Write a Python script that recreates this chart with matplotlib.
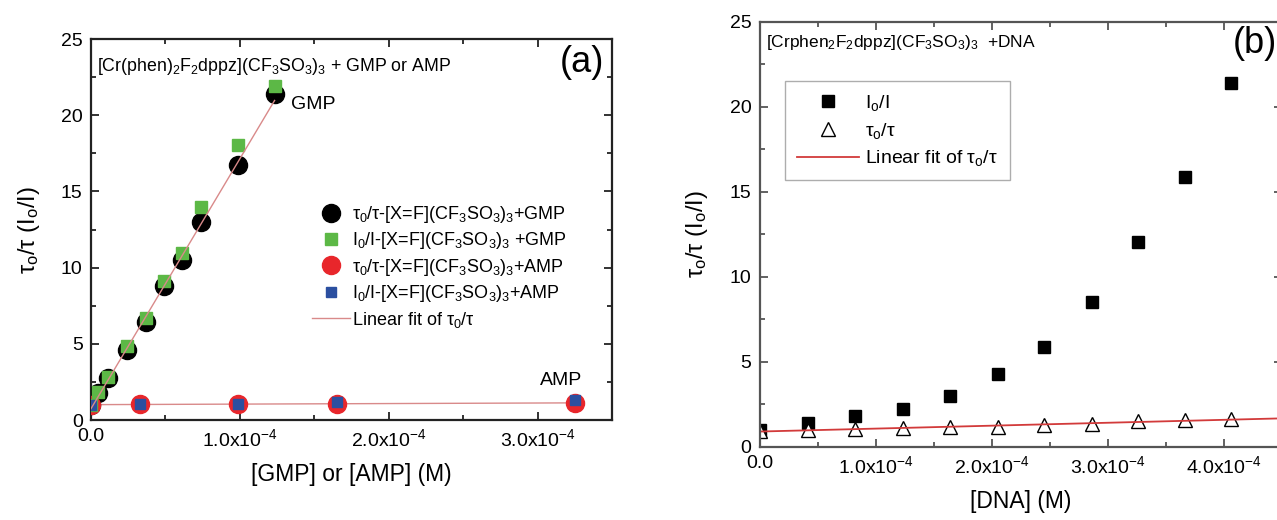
import numpy as np
import matplotlib.pyplot as plt
from matplotlib.ticker import MultipleLocator, FuncFormatter

plt.rcParams['font.family'] = ['Liberation Sans', 'DejaVu Sans']
plt.rcParams['mathtext.fontset'] = 'custom'
plt.rcParams['mathtext.rm'] = 'Liberation Sans'
plt.rcParams['mathtext.it'] = 'Liberation Sans:italic'
plt.rcParams['mathtext.bf'] = 'Liberation Sans:bold'

# panel (a): GMP / AMP titration
gmp_x = [0.0, 0.049e-4, 0.117e-4, 0.24e-4, 0.368e-4, 0.493e-4, 0.614e-4, 0.74e-4, 0.99e-4, 1.233e-4]
gmp_tau = [1.0, 1.75, 2.73, 4.6, 6.45, 8.8, 10.5, 13.0, 16.7, 21.4]
gmp_int = [1.0, 1.86, 2.8, 4.86, 6.67, 9.14, 10.98, 13.96, 18.04, 21.9]
amp_x = [0.0, 0.33e-4, 0.99e-4, 1.65e-4, 3.25e-4]
amp_tau = [1.0, 1.02, 1.05, 1.07, 1.12]
amp_int = [1.0, 1.02, 1.08, 1.15, 1.28]

# panel (b): DNA titration
dna_x = [0.0, 0.41e-4, 0.82e-4, 1.23e-4, 1.64e-4, 2.05e-4, 2.45e-4, 2.86e-4, 3.26e-4, 3.66e-4, 4.06e-4]
dna_int = [1.0, 1.41, 1.8, 2.24, 2.98, 4.31, 5.88, 8.51, 12.06, 15.9, 21.4]
dna_tau = [0.95, 1.0, 1.08, 1.12, 1.15, 1.2, 1.27, 1.37, 1.5, 1.58, 1.65]

ylab = r'$\mathregular{τ_o/τ\ (I_o/I)}$'


def xfmt(v, pos):
    if abs(v) < 1e-12:
        return '0.0'
    return r'$\mathregular{%.1fx10^{-4}}$' % (v / 1e-4)


def style(ax, xmax, col):
    ax.set_ylim(0, 25)
    ax.set_xlim(0, xmax)
    ax.xaxis.set_major_locator(MultipleLocator(1e-4))
    ax.xaxis.set_minor_locator(MultipleLocator(0.5e-4))
    ax.yaxis.set_major_locator(MultipleLocator(5))
    ax.yaxis.set_minor_locator(MultipleLocator(2.5))
    ax.xaxis.set_major_formatter(FuncFormatter(xfmt))
    ax.tick_params(which='both', direction='in', top=True, right=True,
                   labelsize=14, color=col, width=1.3)
    ax.tick_params(which='major', length=6, pad=6)
    ax.tick_params(which='minor', length=3.5)
    for s in ax.spines.values():
        s.set_color(col)
        s.set_linewidth(1.6)


fig = plt.figure(figsize=(12.77, 5.2), dpi=100)
ax1 = fig.add_axes([0.0713, 0.1923, 0.408, 0.7327])
ax2 = fig.add_axes([0.5951, 0.1404, 0.4088, 0.8173])

# ---- (a)
style(ax1, 3.5e-4, '#222222')
ax1.plot(gmp_x, gmp_tau, 'o', color='black', ms=13, zorder=3,
         label=r'$\mathregular{τ_0/τ}$-[X=F](CF$_3$SO$_3$)$_3$+GMP')
ax1.plot(gmp_x, gmp_int, 's', color='#5cb846', ms=8, zorder=4,
         label=r'$\mathregular{I_0/I}$-[X=F](CF$_3$SO$_3$)$_3$ +GMP')
ax1.plot(amp_x, amp_tau, 'o', color='#e8262b', ms=13, zorder=3,
         label=r'$\mathregular{τ_0/τ}$-[X=F](CF$_3$SO$_3$)$_3$+AMP')
ax1.plot(amp_x, amp_int, 's', color='#2b4fa0', ms=6.5, zorder=4,
         label=r'$\mathregular{I_0/I}$-[X=F](CF$_3$SO$_3$)$_3$+AMP')
k, b = np.polyfit(gmp_x, gmp_tau, 1)
xx = np.array([0, max(gmp_x)])
ax1.plot(xx, k * xx + b, color='#d98a8a', lw=1, zorder=5,
         label=r'Linear fit of $\mathregular{τ_0/τ}$')
k, b = np.polyfit(amp_x, amp_tau, 1)
xx = np.array([0, max(amp_x)])
ax1.plot(xx, k * xx + b, color='#d98a8a', lw=1, zorder=2)

ax1.set_xlabel('[GMP] or [AMP] (M)', fontsize=16.5, labelpad=9)
ax1.set_ylabel(ylab, fontsize=17, labelpad=14)
ax1.text(0.012, 0.955, r'[Cr(phen)$_2$F$_2$dppz](CF$_3$SO$_3$)$_3$ + GMP or AMP',
         transform=ax1.transAxes, fontsize=12.8, va='top')
ax1.text(0.985, 0.985, '(a)', transform=ax1.transAxes, fontsize=26, ha='right', va='top')
ax1.text(1.34e-4, 20.7, 'GMP', fontsize=14, va='center')
ax1.text(3.3e-4, 2.6, 'AMP', fontsize=14, ha='right', va='center')
ax1.legend(loc='upper left', bbox_to_anchor=(0.2443, 0.608), bbox_transform=fig.transFigure,
           frameon=False, fontsize=13, handlelength=2.1, handletextpad=0.1,
           labelspacing=0.3, borderpad=0, borderaxespad=0)

# ---- (b)
style(ax2, 4.5e-4, '#555555')
ax2.plot(dna_x, dna_int, 's', color='black', ms=9, label=r'$\mathregular{I_o/I}$')
ax2.plot(dna_x, dna_tau, '^', mfc='white', mec='black', mew=1, ms=10,
         label=r'$\mathregular{τ_o/τ}$')
k, b = np.polyfit(dna_x, dna_tau, 1)
xx = np.array([0, 4.5e-4])
ax2.plot(xx, k * xx + b, color='#d23a3a', lw=1.3, label=r'Linear fit of $\mathregular{τ_o/τ}$')

ax2.set_xlabel('[DNA] (M)', fontsize=16.5, labelpad=9)
ax2.set_ylabel(ylab, fontsize=17, labelpad=14)
ax2.text(0.012, 0.975, r'[Crphen$_2$F$_2$dppz](CF$_3$SO$_3$)$_3$  +DNA',
         transform=ax2.transAxes, fontsize=12.5, va='top')
ax2.text(0.99, 0.99, '(b)', transform=ax2.transAxes, fontsize=26, ha='right', va='top')
leg = ax2.legend(loc='upper left', bbox_to_anchor=(0.615, 0.844), bbox_transform=fig.transFigure,
                 frameon=True, fancybox=False, fontsize=14, handlelength=3.2,
                 handletextpad=0.3, labelspacing=0.4, borderpad=0.6, borderaxespad=0,
                 edgecolor='#999999')
leg.get_frame().set_linewidth(1)

fig.savefig('out.png', dpi=100)
